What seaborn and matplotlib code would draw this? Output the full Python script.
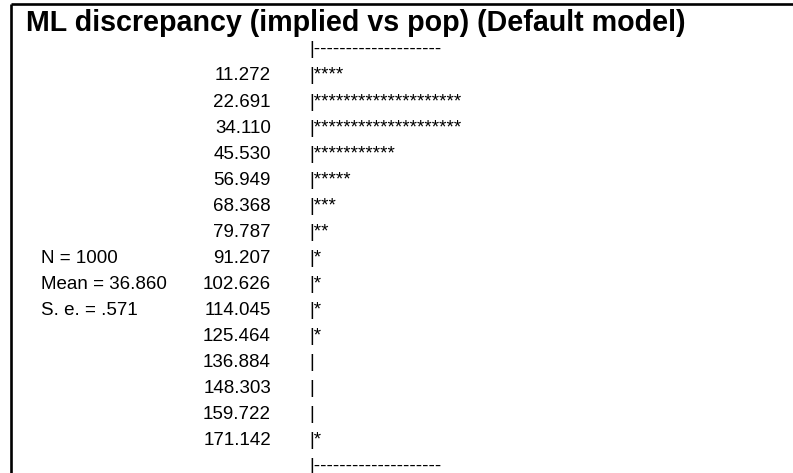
import matplotlib
matplotlib.use("Agg")
import matplotlib.pyplot as plt
import seaborn as sns

# Histogram of the ML discrepancy over 1000 bootstrap samples
title = "ML discrepancy (implied vs pop) (Default model)"
bin_values = [11.272, 22.691, 34.110, 45.530, 56.949, 68.368, 79.787, 91.207,
              102.626, 114.045, 125.464, 136.884, 148.303, 159.722, 171.142]
counts = [4, 20, 20, 11, 5, 3, 2, 1, 1, 1, 1, 0, 0, 0, 1]
summary_labels = ["N = 1000", "Mean = 36.860", "S. e. = .571"]
summary_first_row = 7
rule_width = 20

sns.set_theme(style="white")
plt.rcParams["font.family"] = ["Liberation Sans", "DejaVu Sans"]

W, H = 793, 473
fig = plt.figure(figsize=(W / 100, H / 100), dpi=100)
ax = fig.add_axes([0, 0, 1, 1])
ax.set_xlim(0, W)
ax.set_ylim(H, 0)
ax.axis("off")

# frame: top and left rules only
ax.plot([11.3, W], [4.5, 4.5], color="black", lw=1.9, solid_capstyle="butt")
ax.plot([11.3, 11.3], [4.5, H], color="black", lw=1.9, solid_capstyle="butt")

ax.text(26, 31, title, fontsize=20.6, fontweight="bold", ha="left",
        va="baseline", color="black")

body = dict(fontsize=13.5, va="baseline", color="black")
x_num, x_bar, x_lab = 271, 309, 41
base0, dy = 80.5, 26.0

ax.text(x_bar, base0 - dy, "|" + "-" * rule_width, ha="left", **body)
for i, (v, c) in enumerate(zip(bin_values, counts)):
    y = base0 + i * dy
    ax.text(x_num, y, f"{v:.3f}", ha="right", **body)
    ax.text(x_bar, y, "|" + "*" * c, ha="left", **body)
ax.text(x_bar, base0 + len(bin_values) * dy, "|" + "-" * rule_width,
        ha="left", **body)

for k, lab in enumerate(summary_labels):
    ax.text(x_lab, base0 + (summary_first_row + k) * dy, lab, ha="left", **body)

fig.savefig("out.png", dpi=100, facecolor="white")
